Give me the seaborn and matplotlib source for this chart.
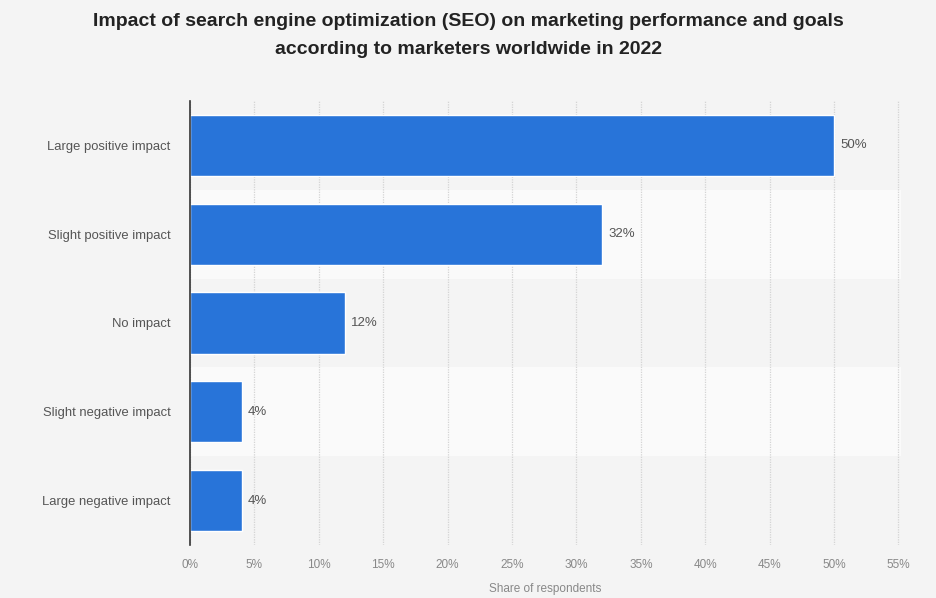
import matplotlib
matplotlib.use("Agg")
import matplotlib.pyplot as plt
from matplotlib import font_manager
import seaborn as sns
import pandas as pd

categories = ["Large positive impact", "Slight positive impact", "No impact",
              "Slight negative impact", "Large negative impact"]
shares = [50, 32, 12, 4, 4]
tick_values = [0, 5, 10, 15, 20, 25, 30, 35, 40, 45, 50, 55]

df = pd.DataFrame({"category": categories, "share": shares})

sns.set_theme(style="white")
plt.rcParams["font.family"] = ["Liberation Sans", "DejaVu Sans"]

available = {f.name for f in font_manager.fontManager.ttflist}
title_family = "Liberation Sans Narrow" if "Liberation Sans Narrow" in available else "Liberation Sans"
title_size = 15 if title_family == "Liberation Sans Narrow" else 14

bg = "#f4f4f4"
fig = plt.figure(figsize=(9.37, 5.98), dpi=100, facecolor=bg)
ax = fig.add_axes([190 / 937, 1 - 545 / 598, 711 / 937, 444 / 598])
ax.set_facecolor(bg)

# alternating row bands
for i in range(len(categories)):
    if i % 2 == 1:
        ax.axhspan(i - 0.5, i + 0.5, color="#fafafa", zorder=0, lw=0)

sns.barplot(data=df, x="share", y="category", color="#2874d9", width=0.69,
            saturation=1, ax=ax, zorder=3)

ax.set_xlim(0, 55.2)
ax.set_ylim(len(categories) - 0.5, -0.5)
ax.set_xticks(tick_values)
ax.set_xticklabels([f"{v}%" for v in tick_values], color="#888888", fontsize=8.5)
ax.tick_params(axis="x", length=0, pad=10)
ax.tick_params(axis="y", length=0, pad=14, labelsize=9.4, labelcolor="#555555")
ax.xaxis.grid(True, color="#d4d4d4", linestyle=(0, (1, 1)), linewidth=0.9, zorder=1)
ax.set_axisbelow(True)

for s in ["top", "right", "bottom"]:
    ax.spines[s].set_visible(False)
ax.spines["left"].set_color("#333333")
ax.spines["left"].set_linewidth(1.2)
ax.spines["left"].set_zorder(5)

bars = ax.containers[0]
for p, v in zip(bars, shares):
    ax.text(p.get_width() + 0.5, p.get_y() + p.get_height() / 2, f"{v}%",
            va="center", ha="left", fontsize=9.5, color="#555555", zorder=4)

ax.set_ylabel("")
ax.set_xlabel("Share of respondents", color="#888888", fontsize=8.5, labelpad=9)

fig.text(0.5, 1 - 21 / 598, "Impact of search engine optimization (SEO) on marketing performance and goals",
         ha="center", va="center", fontsize=title_size, fontweight="bold", color="#222222",
         family=[title_family, "DejaVu Sans"])
fig.text(0.5, 1 - 50 / 598, "according to marketers worldwide in 2022",
         ha="center", va="center", fontsize=title_size, fontweight="bold", color="#222222",
         family=[title_family, "DejaVu Sans"])

fig.savefig("out.png", dpi=100, facecolor=bg)
